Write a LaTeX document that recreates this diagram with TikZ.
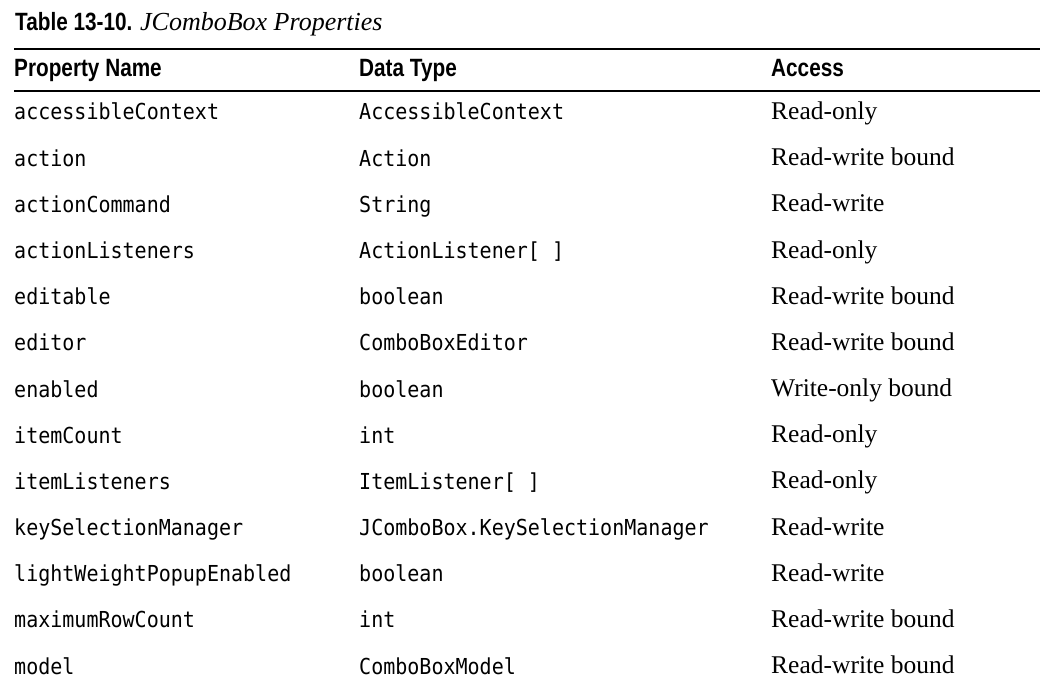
\documentclass[tikz,border=0pt]{standalone}
\usepackage{fontspec}
\setmainfont{Liberation Serif}
\newfontfamily\headfont[FakeStretch=0.83]{Liberation Sans Bold}
\newfontfamily\codefont[FakeStretch=0.91]{DejaVu Sans Mono}

\tikzset{
  headcell/.style={anchor=base west, inner sep=0pt, font=\headfont\fontsize{25}{30}\selectfont},
  codecell/.style={anchor=base west, inner sep=0pt, font=\codefont\fontsize{22}{26}\selectfont},
  accesscell/.style={anchor=base west, inner sep=0pt, font=\rmfamily\fontsize{25.5}{30}\selectfont},
  tablerule/.style={line width=1.7pt}
}

\begin{document}
\begin{tikzpicture}[x=1pt,y=-1pt]
\useasboundingbox (0,0) rectangle (1054,684);

\node[headcell] (cap) at (15,31){Table 13-10. {\rmfamily\itshape\fontsize{26}{30}\selectfont JComboBox Properties}};

\coordinate (R1w) at (14,49);
\coordinate (R1e) at (1040,49);
\coordinate (R2w) at (14,91);
\coordinate (R2e) at (1040,91);
\draw[tablerule](R1w)--(R1e);
\draw[tablerule](R2w)--(R2e);

\node[headcell] (H1) at (14,77){Property Name};
\node[headcell] (H2) at (359,77){Data Type};
\node[headcell] (H3) at (771,77){Access};

\foreach \x/\p/\t/\a in {1/accessibleContext/AccessibleContext/Read-only,
  2/action/Action/Read-write bound,
  3/actionCommand/String/Read-write,
  4/actionListeners/ActionListener[ ]/Read-only,
  5/editable/boolean/Read-write bound,
  6/editor/ComboBoxEditor/Read-write bound,
  7/enabled/boolean/Write-only bound,
  8/itemCount/int/Read-only,
  9/itemListeners/ItemListener[ ]/Read-only,
  10/keySelectionManager/JComboBox.KeySelectionManager/Read-write,
  11/lightWeightPopupEnabled/boolean/Read-write,
  12/maximumRowCount/int/Read-write bound,
  13/model/ComboBoxModel/Read-write bound}
{
    \node[codecell] (P\x) at (14,{120+46.17*(\x-1)}){\p};
    \node[codecell] (T\x) at (359,{120+46.17*(\x-1)}){\t};
    \node[accesscell] (A\x) at (771,{119.5+46.17*(\x-1)}){\a};
}

\end{tikzpicture}
\end{document}
